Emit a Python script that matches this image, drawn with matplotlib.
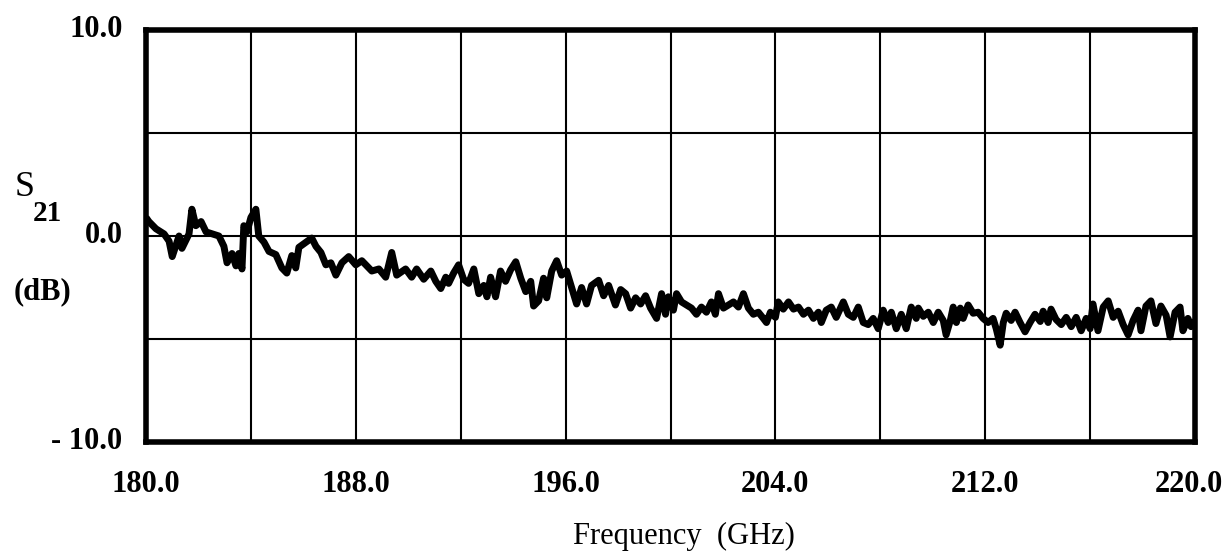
import matplotlib
matplotlib.use("Agg")
import matplotlib.pyplot as plt
import matplotlib.transforms as mtransforms

# S21 trace (GHz, dB)
freq = [180.0, 180.11, 180.38, 180.69, 180.88, 181.0, 181.26, 181.37, 181.64, 181.75,
        181.9, 182.1, 182.29, 182.78, 182.97, 183.09, 183.28, 183.43, 183.54, 183.66,
        183.73, 183.85, 184.0, 184.19, 184.3, 184.5, 184.69, 184.95, 185.18, 185.37,
        185.56, 185.71, 185.83, 186.1, 186.32, 186.48, 186.67, 186.86, 187.05, 187.24,
        187.47, 187.73, 188.0, 188.23, 188.61, 188.88, 189.14, 189.37, 189.56,
        189.9, 190.13, 190.32, 190.59, 190.86, 191.05, 191.24, 191.43, 191.54, 191.73,
        191.92, 192.11, 192.3, 192.5, 192.69, 192.88, 193.0, 193.14, 193.33, 193.52,
        193.71, 193.9, 194.1, 194.29, 194.48, 194.67, 194.78, 194.97, 195.16, 195.28,
        195.47, 195.66, 195.85, 196.04, 196.23, 196.42, 196.61, 196.8, 196.99, 197.26,
        197.45, 197.64, 197.9, 198.1, 198.29, 198.48, 198.67, 198.86, 199.05, 199.24,
        199.47,
        199.66, 199.81, 199.92, 200.11, 200.23, 200.42, 200.61, 200.8, 200.99, 201.18,
        201.37, 201.56, 201.71, 201.83, 202.02, 202.21, 202.4, 202.59, 202.78, 202.97,
        203.16, 203.35, 203.54, 203.66, 203.81, 204.0, 204.11, 204.3, 204.5, 204.69,
        204.88, 205.07, 205.26, 205.45, 205.64, 205.75, 205.94, 206.13, 206.32, 206.59,
        206.78, 206.97, 207.16, 207.35, 207.54, 207.73, 207.92, 208.11, 208.3, 208.42,
        208.61, 208.8, 208.99, 209.18, 209.37,
        209.45, 209.64, 209.83, 210.02, 210.21, 210.4, 210.51, 210.67, 210.78, 210.9,
        211.05, 211.16, 211.35, 211.54, 211.73, 211.92, 212.11, 212.3, 212.42, 212.57,
        212.69, 212.8, 212.99, 213.14, 213.33, 213.52, 213.71, 213.9, 214.1, 214.21,
        214.4, 214.51, 214.7, 214.9, 215.09, 215.28, 215.47, 215.66, 215.85, 216.0,
        216.11, 216.3, 216.5, 216.69, 216.88, 217.07, 217.26, 217.45, 217.64, 217.83,
        217.94, 218.13, 218.32, 218.51, 218.7, 218.9, 219.05, 219.24, 219.43, 219.54,
        219.73, 219.85, 220.0]

s21 = [0.9, 0.7, 0.35, 0.1, -0.25, -1.0, 0.0, -0.6, 0.1, 1.3,
       0.5, 0.7, 0.2, 0.0, -0.5, -1.3, -0.85, -1.45, -0.85, -1.6,
       0.5, 0.2, 0.9, 1.3, 0.0, -0.3, -0.75, -0.9, -1.55, -1.8,
       -0.95, -1.55, -0.55, -0.3, -0.1, -0.5, -0.8, -1.4, -1.3, -1.9,
       -1.3, -1.0, -1.4, -1.2, -1.7, -1.6, -2.0, -0.8, -1.9,
       -1.6, -2.0, -1.6, -2.1, -1.7, -2.2, -2.55, -2.0, -2.3, -1.8,
       -1.4, -2.1, -2.3, -1.6, -2.8, -2.4, -2.95, -2.0, -2.95, -1.7,
       -2.2, -1.65, -1.25, -2.05, -2.7, -2.2, -3.4, -3.15, -2.05, -3.0,
       -1.7, -1.2, -1.9, -1.7, -2.5, -3.3, -2.5, -3.3, -2.4, -2.15,
       -2.9, -2.4, -3.35, -2.6, -2.8, -3.5, -3.0, -3.3, -2.9, -3.5,
       -4.0,
       -2.8, -3.8, -2.95, -3.6, -2.8, -3.2, -3.35, -3.5, -3.8, -3.45,
       -3.7, -3.2, -3.8, -2.8, -3.5, -3.35, -3.2, -3.45, -2.8, -3.5,
       -3.8, -3.7, -4.0, -4.2, -3.7, -3.95, -3.2, -3.55, -3.2, -3.55,
       -3.45, -3.8, -3.6, -4.0, -3.7, -4.2, -3.6, -3.45, -3.95, -3.2,
       -3.8, -3.95, -3.45, -4.2, -4.3, -4.0, -4.5, -3.6, -4.2, -3.7,
       -4.5, -3.8, -4.5, -3.45, -4.0,
       -3.5, -3.9, -3.7, -4.2, -3.7, -4.1, -4.8, -4.1, -3.45, -4.2,
       -3.5, -4.0, -3.35, -3.75, -3.7, -4.0, -4.2, -4.0, -4.5, -5.3,
       -4.2, -3.75, -4.1, -3.7, -4.2, -4.65, -4.2, -3.8, -4.15, -3.65,
       -4.2, -3.55, -4.05, -4.3, -3.95, -4.4, -3.95, -4.6, -4.0, -4.5,
       -3.3, -4.6, -3.45, -3.15, -3.95, -3.65, -4.3, -4.8, -4.1, -3.6,
       -4.6, -3.4, -3.15, -4.25, -3.4, -3.85, -4.9, -3.7, -3.45, -4.6,
       -4.0, -4.4, -4.1]

x_grid = [180, 184, 188, 192, 196, 200, 204, 208, 212, 216, 220]
x_labels = ["180.0", "", "188.0", "", "196.0", "", "204.0", "", "212.0", "", "220.0"]
y_grid = [-10, -5, 0, 5, 10]
y_labels = ["- 10.0", "", "0.0", "", "10.0"]

font = "Liberation Serif"

fig = plt.figure(figsize=(12.27, 5.55), dpi=100)
ax = fig.add_axes([146 / 1227, 1 - 442 / 555, 1049 / 1227, 412 / 555])

ax.plot(freq, s21, color="black", lw=5.0, solid_joinstyle="round",
        solid_capstyle="butt", zorder=3)

ax.set_xlim(180, 220)
ax.set_ylim(-10, 10)
ax.set_xticks(x_grid)
ax.set_xticklabels(x_labels, fontfamily=font, fontsize=22, fontweight="bold")
ax.set_yticks(y_grid)
ax.set_yticklabels(y_labels, fontfamily=font, fontsize=22, fontweight="bold")
ax.tick_params(axis="x", length=0, pad=20)
ax.tick_params(axis="y", length=0, pad=17)
ax.grid(True, color="black", lw=1.5)

for sp in ax.spines.values():
    sp.set_linewidth(4.0)

# y labels sit a little above their grid lines in the original
up = mtransforms.ScaledTranslation(0, 0.04, fig.dpi_scale_trans)
for lab in ax.get_yticklabels():
    lab.set_transform(lab.get_transform() + up)

# keep the last x label inside the figure
last = ax.get_xticklabels()[-1]
last.set_transform(last.get_transform() +
                   mtransforms.ScaledTranslation(-0.06, 0, fig.dpi_scale_trans))

fig.text(684 / 1227, 1 - 536 / 555, "Frequency  (GHz)", fontfamily=font,
         fontsize=22, ha="center", va="center")

fig.text(0.012, 1 - 188 / 555, "S", fontfamily=font, fontsize=26, va="center")
fig.text(0.027, 1 - 213 / 555, "21", fontfamily=font, fontsize=21, va="center",
         fontweight="bold")
fig.text(0.011, 1 - 292 / 555, "(dB)", fontfamily=font, fontsize=22, va="center",
         fontweight="bold")

fig.savefig("out.png", dpi=100)
